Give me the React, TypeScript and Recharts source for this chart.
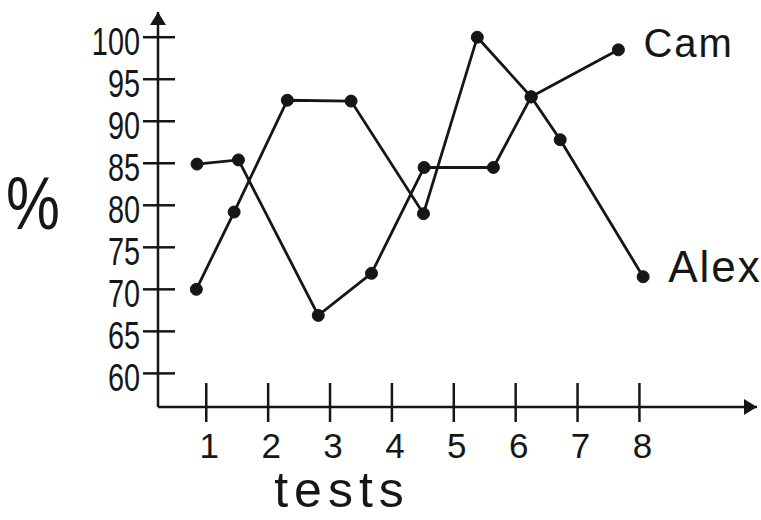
import React from 'react';
import { LineChart, Line, XAxis, YAxis } from 'recharts';

// x positions of the drawn points, in "tests" units (as placed on the hand-drawn axis)
const testTicks = [1, 2, 3, 4, 5, 6, 7, 8];
const percentTicks = [60, 65, 70, 75, 80, 85, 90, 95, 100];

const alexTests = [0.84, 1.45, 2.31, 3.34, 4.51, 5.38, 6.25, 6.72, 8.06];
const alexScores = [70, 79.2, 92.5, 92.4, 79.0, 100, 92.9, 87.8, 71.5];

const camTests = [0.85, 1.52, 2.81, 3.67, 4.52, 5.64, 6.25, 7.66];
const camScores = [84.9, 85.4, 66.9, 71.9, 84.5, 84.5, 92.9, 98.5];

const alexData = alexTests.map((t, i) => ({ test: t, score: alexScores[i] }));
const camData = camTests.map((t, i) => ({ test: t, score: camScores[i] }));

const INK = '#161616';
const FONT = '"Liberation Sans", "DejaVu Sans", sans-serif';

const YTick = (props: any) => {
  const { x, y, payload } = props;
  return (
    <g>
      <line x1={x - 15} x2={x + 17} y1={y} y2={y} stroke={INK} strokeWidth={2.5} />
      <text
        transform={`translate(${x - 18},${y + 18}) scale(0.74,1)`}
        textAnchor="end"
        fontSize={39}
        fontFamily={FONT}
        fill={INK}
      >
        {payload.value}
      </text>
    </g>
  );
};

const XTick = (props: any) => {
  const { x, y, payload } = props;
  return (
    <g>
      <line x1={x} x2={x} y1={y - 24} y2={y + 15} stroke={INK} strokeWidth={2.5} />
      <text x={x + 3} y={y + 51} textAnchor="middle" fontSize={35} fontFamily={FONT} fill={INK}>
        {payload.value}
      </text>
    </g>
  );
};

const endLabel = (name: string, lastIndex: number, dx: number, dy: number, size: number) => (props: any) => {
  const { x, y, index } = props;
  if (index !== lastIndex) return null;
  return (
    <text x={x + dx} y={y + dy} fontSize={size} fontFamily={FONT} fill={INK} letterSpacing={2}>
      {name}
    </text>
  );
};

const PercentLabel = (props: any) => {
  const vb = props.viewBox || { x: 0, y: 0, width: 0, height: 0 };
  return (
    <text
      transform={`translate(${vb.x + 33},${vb.y + vb.height / 2 + 19}) scale(0.82,1)`}
      textAnchor="middle"
      fontSize={74}
      fontFamily={FONT}
      fill={INK}
    >
      %
    </text>
  );
};

const TestsLabel = (props: any) => {
  const vb = props.viewBox || { x: 0, y: 0, width: 0, height: 0 };
  return (
    <text x={vb.x + 184} y={vb.y + 100} textAnchor="middle" fontSize={50} fontFamily={FONT} fill={INK} letterSpacing={6}>
      tests
    </text>
  );
};

export default function App() {
  return (
    <div style={{ position: 'absolute', left: 0, top: 0, width: 761, height: 520, background: '#fff' }}>
      <svg width={0} height={0} style={{ position: 'absolute' }}>
        <defs>
          <marker
            id="arrowHead"
            viewBox="0 0 13 16"
            refX={13}
            refY={8}
            markerWidth={13}
            markerHeight={16}
            markerUnits="userSpaceOnUse"
            orient="auto-start-reverse"
          >
            <path d="M0,0 L13,8 L0,16 z" fill={INK} />
          </marker>
        </defs>
      </svg>
      <LineChart width={761} height={520} margin={{ top: 12, right: 4, bottom: 0, left: 0 }}>
        <XAxis
          type="number"
          dataKey="test"
          domain={[0.22, 9.9]}
          ticks={testTicks}
          allowDecimals
          height={113}
          tickSize={0}
          tickMargin={0}
          tickLine={false}
          tick={XTick}
          axisLine={{ stroke: INK, strokeWidth: 2.5, markerEnd: 'url(#arrowHead)' }}
          label={{ content: TestsLabel }}
        />
        <YAxis
          type="number"
          domain={[56, 103]}
          ticks={percentTicks}
          width={158}
          tickSize={0}
          tickMargin={0}
          tickLine={false}
          tick={YTick}
          axisLine={{ stroke: INK, strokeWidth: 2.5, markerStart: 'url(#arrowHead)' }}
          label={{ content: PercentLabel }}
        />
        <Line
          data={alexData}
          dataKey="score"
          type="linear"
          stroke={INK}
          strokeWidth={2.8}
          dot={{ r: 6, fill: INK, stroke: INK, strokeWidth: 1 }}
          activeDot={false}
          isAnimationActive={false}
          label={endLabel('Alex', alexData.length - 1, 25, 5, 44)}
        />
        <Line
          data={camData}
          dataKey="score"
          type="linear"
          stroke={INK}
          strokeWidth={2.8}
          dot={{ r: 6, fill: INK, stroke: INK, strokeWidth: 1 }}
          activeDot={false}
          isAnimationActive={false}
          label={endLabel('Cam', camData.length - 1, 25, 7, 40)}
        />
      </LineChart>
    </div>
  );
}
